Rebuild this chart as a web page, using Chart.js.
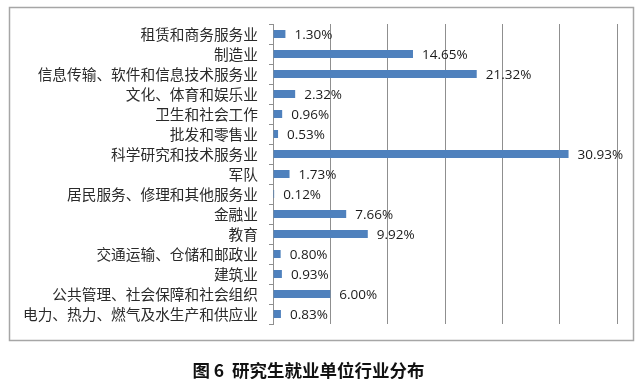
<!DOCTYPE html>
<html>
<head>
<meta charset="utf-8">
<script src="https://cdn.jsdelivr.net/npm/chart.js@4/dist/chart.umd.min.js"></script>
<style>
  html, body { margin: 0; padding: 0; background: #fff; }
  #wrap { width: 640px; height: 379px; }
</style>
</head>
<body>
<div id="wrap"><canvas id="c" width="640" height="379"></canvas></div>
<script>
const categories = [
  "租赁和商务服务业",
  "制造业",
  "信息传输、软件和信息技术服务业",
  "文化、体育和娱乐业",
  "卫生和社会工作",
  "批发和零售业",
  "科学研究和技术服务业",
  "军队",
  "居民服务、修理和其他服务业",
  "金融业",
  "教育",
  "交通运输、仓储和邮政业",
  "建筑业",
  "公共管理、社会保障和社会组织",
  "电力、热力、燃气及水生产和供应业"
];
const values = [1.30, 14.65, 21.32, 2.32, 0.96, 0.53, 30.93, 1.73, 0.12, 7.66, 9.92, 0.80, 0.93, 6.00, 0.83];
const valueLabels = ["1.30%", "14.65%", "21.32%", "2.32%", "0.96%", "0.53%", "30.93%", "1.73%", "0.12%", "7.66%", "9.92%", "0.80%", "0.93%", "6.00%", "0.83%"];
const titleText = "图 6  研究生就业单位行业分布";

const frame = {
  id: 'frame',
  beforeDraw(chart) {
    const ctx = chart.ctx;
    ctx.save();
    ctx.fillStyle = '#fff';
    ctx.fillRect(0, 0, chart.width, chart.height);
    ctx.strokeStyle = '#a6a6a6';
    ctx.lineWidth = 1.5;
    ctx.strokeRect(9.5, 7.5, 624, 333);
    ctx.restore();
  }
};

const barLabels = {
  id: 'barLabels',
  afterDatasetsDraw(chart) {
    const ctx = chart.ctx;
    const meta = chart.getDatasetMeta(0);
    ctx.save();
    ctx.font = '13.5px "Open Sans", "Liberation Sans", Arial, sans-serif';
    ctx.fillStyle = '#1a1a1a';
    ctx.textAlign = 'left';
    ctx.textBaseline = 'middle';
    meta.data.forEach((bar, i) => {
      ctx.fillText(valueLabels[i], bar.x + 9, bar.y + 1);
    });
    ctx.restore();
  }
};

new Chart(document.getElementById('c'), {
  type: 'bar',
  data: {
    labels: categories,
    datasets: [{
      data: values,
      backgroundColor: '#4f81bd',
      borderWidth: 0,
      categoryPercentage: 1.0,
      barPercentage: 0.4
    }]
  },
  options: {
    indexAxis: 'y',
    responsive: false,
    animation: false,
    devicePixelRatio: 1,
    layout: { padding: { left: 0, right: 23, top: 24, bottom: 0 } },
    plugins: {
      legend: { display: false },
      tooltip: { enabled: false },
      title: {
        display: true,
        text: titleText,
        position: 'bottom',
        color: '#111',
        font: { family: '"Noto Sans CJK SC", sans-serif', size: 17.5, weight: 'bold', lineHeight: 1.0 },
        padding: { top: 37.5, bottom: 0 }
      }
    },
    scales: {
      x: {
        min: 0,
        max: 36,
        ticks: { display: false, stepSize: 6 },
        grid: { color: '#8f8f8f', lineWidth: 1, drawTicks: false },
        border: { display: false },
        afterFit(scale) { scale.height = 0; }
      },
      y: {
        ticks: {
          color: '#2a2a2a',
          padding: 11,
          autoSkip: false,
          font: { family: '"Noto Sans CJK SC", sans-serif', size: 14.7 }
        },
        grid: { drawOnChartArea: false, drawTicks: true, tickLength: 4, color: '#8f8f8f', offset: true },
        border: { display: true, color: '#8f8f8f', width: 1 },
        afterFit(scale) { scale.width = 273; }
      }
    }
  },
  plugins: [frame, barLabels]
});
</script>
</body>
</html>
